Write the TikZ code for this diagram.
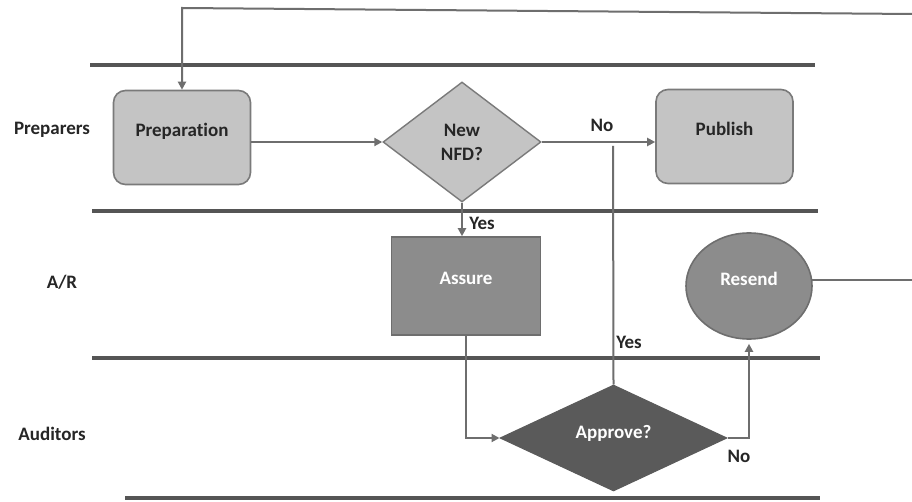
\documentclass[tikz,border=0pt]{standalone}
\usepackage{fontspec}
\setmainfont{Carlito}[Ligatures={NoCommon}]
\usetikzlibrary{shapes.geometric,arrows.meta}
\definecolor{laneline}{HTML}{555555}
\definecolor{conn}{HTML}{6E6E6E}
\definecolor{lightfill}{HTML}{C4C4C4}
\definecolor{lightborder}{HTML}{7A7A7A}
\definecolor{midfill}{HTML}{8C8C8C}
\definecolor{darkfill}{HTML}{5A5A5A}
\newcommand{\myfont}{\fontsize{19}{23}\selectfont\bfseries}
\tikzset{
  lane/.style={draw=laneline, line width=3.5pt},
  conline/.style={draw=conn, line width=2pt},
  arr/.style={conline, -{Triangle[length=8pt,width=8pt]}},
  lbl/.style={font=\myfont, text=black!85},
  roundbox/.style={draw=lightborder, line width=1.6pt, fill=lightfill, rounded corners=12pt,
    minimum width=137pt, minimum height=94pt, text depth=16pt, inner sep=0pt,
    font=\myfont, text=black!85},
  sqbox/.style={draw=conn, line width=1.6pt, fill=midfill,
    minimum width=149pt, minimum height=98pt, text depth=16pt, inner sep=0pt,
    font=\myfont, text=white},
  ovalbox/.style={ellipse, draw=conn, line width=1.6pt, fill=midfill,
    minimum width=126pt, minimum height=106pt, text depth=14pt, inner sep=0pt,
    font=\myfont, text=white},
  decision/.style={diamond, draw=lightborder, line width=1.4pt, fill=lightfill,
    minimum width=158pt, minimum height=120pt, inner sep=0pt, align=center,
    font=\fontsize{19}{24}\selectfont\bfseries, text=black!85},
  darkdecision/.style={diamond, draw=darkfill, line width=1pt, fill=darkfill,
    minimum width=227pt, minimum height=106pt, inner sep=0pt, text depth=12pt,
    font=\myfont, text=white}
}
\begin{document}
\begin{tikzpicture}[x=1pt,y=-1pt]
\useasboundingbox (0,0) rectangle (912,502);
\fill[white] (0,0) rectangle (912,502);
% lane lines
\draw[lane] (90,65) -- (815,65);
\draw[lane] (92,211) -- (818,211);
\draw[lane] (92,358) -- (820,358);
\draw[lane] (125,498) -- (820,498);
% lane labels
\node[lbl] (lprep) at (52,130) {Preparers};
\node[lbl] (lar) at (62,282) {A/R};
\node[lbl] (laud) at (52,434) {Auditors};
% nodes
\node[roundbox] (prep) at (182,137.5) {Preparation};
\node[decision] (nfd) at (462,142) {New\\NFD?};
\node[roundbox] (pub) at (724.5,136.5) {Publish};
\node[sqbox] (assure) at (466,286) {Assure};
\node[ovalbox] (resend) at (749,286) {Resend};
\node[darkdecision] (approve) at (613.5,438) {Approve?};
% coordinates
\coordinate (yesEnd) at (613,146);
\coordinate (rsOut) at (912,281);
\coordinate (topR) at (912,14);
\coordinate (topL) at (182,8);
% connectors
\draw[arr] (prep.east |- nfd.west) -- (nfd.west);
\draw[arr] (nfd.east) -- (nfd.east -| pub.west);
\node[lbl] (lno1) at (602,125) {No};
\draw[arr] (nfd.south) -- (assure.north -| nfd.south);
\node[lbl] (lyes1) at (482,223) {Yes};
\draw[arr] (assure.south) |- (approve.west);
\draw[conline] (approve.north) -- (yesEnd);
\node[lbl] (lyes2) at (629,342) {Yes};
\draw[arr] (approve.east) -| ([yshift=-4pt]resend.south);
\node[lbl] (lno2) at (739,456) {No};
\draw[conline] (resend.5) -- (resend.5 -| rsOut);
\draw[arr] (topR) -- (topL) -- (prep.north);
\end{tikzpicture}
\end{document}
